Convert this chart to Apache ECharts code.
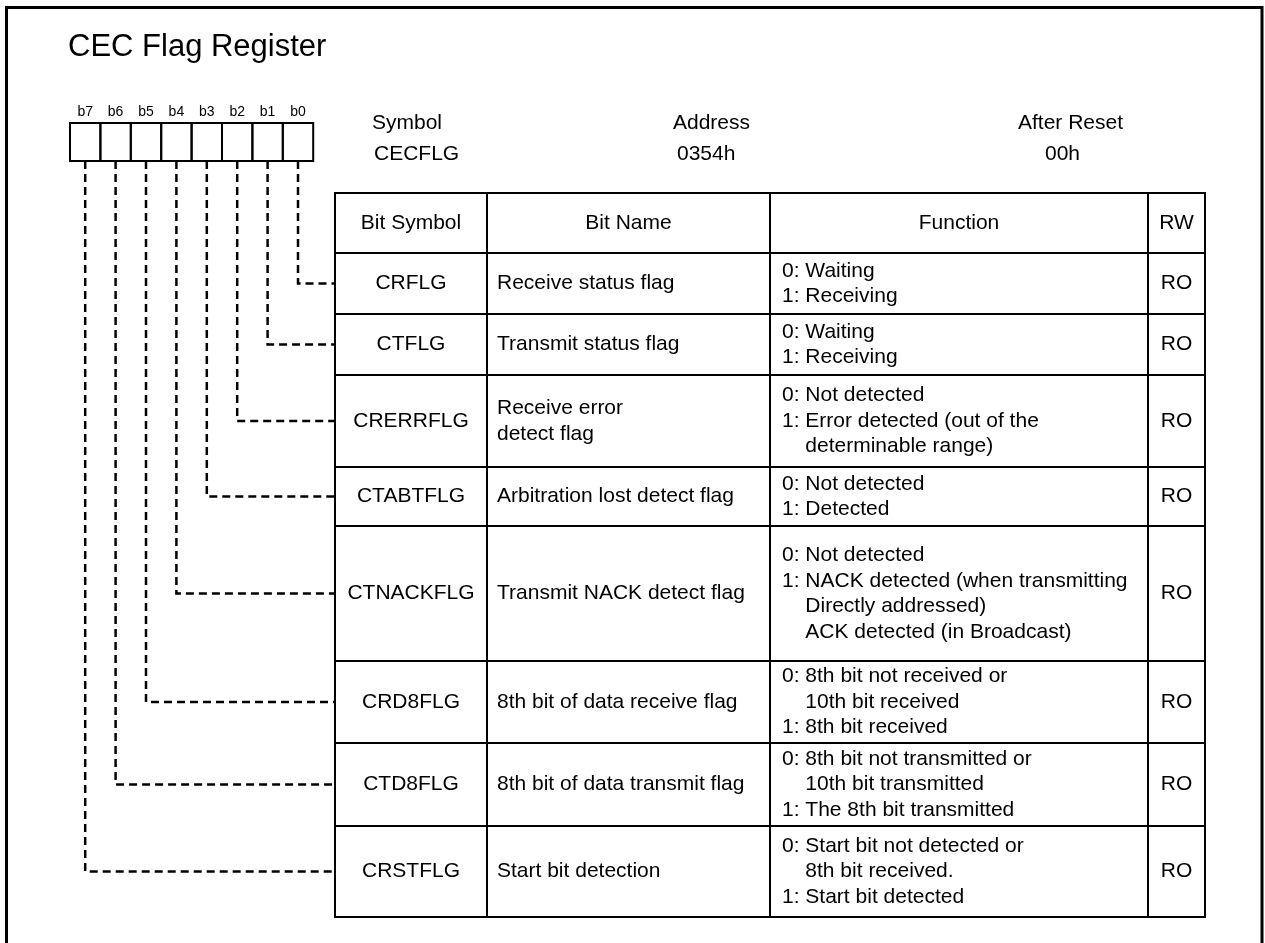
<!DOCTYPE html>
<html><head><meta charset="utf-8">
<script src="https://cdn.jsdelivr.net/npm/echarts@6/dist/echarts.min.js"></script>
<style>html,body{margin:0;padding:0;background:#fff}#c{width:1265px;height:943px}</style>
</head><body><div id="c"></div>
<script>
// ---- data ----
const titleText = 'CEC Flag Register';
const bitLabels = ['b7','b6','b5','b4','b3','b2','b1','b0'];
const infoHeads = ['Symbol','Address','After Reset'];
const infoValues = ['CECFLG','0354h','00h'];
const columnHeads = ['Bit Symbol','Bit Name','Function','RW'];
const bitSymbols = ['CRFLG','CTFLG','CRERRFLG','CTABTFLG','CTNACKFLG','CRD8FLG','CTD8FLG','CRSTFLG'];
const bitNames = ['Receive status flag','Transmit status flag','Receive error\ndetect flag','Arbitration lost detect flag','Transmit NACK detect flag','8th bit of data receive flag','8th bit of data transmit flag','Start bit detection'];
const functionLines = [
  ['0: Waiting','1: Receiving'],
  ['0: Waiting','1: Receiving'],
  ['0: Not detected','1: Error detected (out of the','    determinable range)'],
  ['0: Not detected','1: Detected'],
  ['0: Not detected','1: NACK detected (when transmitting','    Directly addressed)','    ACK detected (in Broadcast)'],
  ['0: 8th bit not received or','    10th bit received','1: 8th bit received'],
  ['0: 8th bit not transmitted or','    10th bit transmitted','1: The 8th bit transmitted'],
  ['0: Start bit not detected or','    8th bit received.','1: Start bit detected']
];
const rwValues = ['RO','RO','RO','RO','RO','RO','RO','RO'];
const rowBit = [0,1,2,3,4,5,6,7]; // row i describes bit b(rowBit[i])

// ---- layout (positions / sizes / styles) ----
const FONT = '"Liberation Sans", Arial, Helvetica, sans-serif';
const L = {
  W: 1265, H: 943,
  titleX: 68, titleY: 47, titleSize: 31,
  boxX0: 70, boxW: 30.4, boxY0: 123, boxY1: 161, labelY: 112, labelSize: 14,
  infoHeadPos: [[372,123],[673,123],[1018,123]],
  infoValPos: [[374,154],[677,154],[1045,154]],
  colX: [335, 487, 770, 1148, 1205],
  headY0: 193, headY1: 253,
  rowH: [61, 61, 92, 59, 135, 82, 83, 91],
  nameIndent: 10, funcIndent: 12,
  lineH: 25.5, size: 21
};
const rowTop = [];
{ let y = L.headY1; for (const h of L.rowH) { rowTop.push(y); y += h; } }

function txt(p, text, align, size, extra) {
  return Object.assign({
    type: 'text',
    style: { x: p[0], y: p[1], text: text, align: align, verticalAlign: 'middle',
             fontSize: size, fontFamily: FONT, fill: '#000', lineHeight: L.lineH }
  }, extra || {});
}
function rectFrom(api, x0, y0, x1, y1, lw) {
  const a = api.coord([x0, y0]), b = api.coord([x1, y1]);
  return { type: 'rect', shape: { x: a[0], y: a[1], width: b[0] - a[0], height: b[1] - a[1] },
           style: { fill: 'none', stroke: '#000', lineWidth: lw } };
}

const chart = echarts.init(document.getElementById('c'), null, { renderer: 'canvas' });
chart.setOption({
  animation: false,
  backgroundColor: '#fff',
  grid: { left: 0, right: 0, top: 0, bottom: 0 },
  xAxis: { type: 'value', min: 0, max: L.W, show: false },
  yAxis: { type: 'value', min: 0, max: L.H, inverse: true, show: false },
  graphic: [{
    type: 'polyline', silent: true,
    shape: { points: [[6.5, 960], [6.5, 7.5], [1262, 7.5], [1262, 960]] },
    style: { stroke: '#000', lineWidth: 3, fill: 'none' }
  }],
  series: [
    { // title
      type: 'custom', data: [[0]], silent: true,
      renderItem: (p, api) => txt(api.coord([L.titleX, L.titleY]), titleText, 'left', L.titleSize)
    },
    { // symbol / address / after reset
      type: 'custom', data: infoHeads.map((h, i) => [i]), silent: true,
      renderItem: (p, api) => {
        const i = api.value(0);
        return { type: 'group', children: [
          txt(api.coord(L.infoHeadPos[i]), infoHeads[i], 'left', L.size),
          txt(api.coord(L.infoValPos[i]), infoValues[i], 'left', L.size)
        ]};
      }
    },
    { // bit boxes
      type: 'custom', data: bitLabels.map((b, i) => [i]), silent: true,
      renderItem: (p, api) => {
        const i = api.value(0);
        const x0 = L.boxX0 + i * L.boxW;
        return { type: 'group', children: [
          rectFrom(api, x0, L.boxY0, x0 + L.boxW, L.boxY1, 2),
          txt(api.coord([x0 + L.boxW / 2, L.labelY]), bitLabels[i], 'center', L.labelSize)
        ]};
      }
    },
    { // header row
      type: 'custom', data: columnHeads.map((h, j) => [j]), silent: true,
      renderItem: (p, api) => {
        const j = api.value(0);
        const xm = (L.colX[j] + L.colX[j + 1]) / 2, ym = (L.headY0 + L.headY1) / 2;
        return { type: 'group', children: [
          rectFrom(api, L.colX[j], L.headY0, L.colX[j + 1], L.headY1, 2),
          txt(api.coord([xm, ym]), columnHeads[j], 'center', L.size)
        ]};
      }
    },
    { // table rows + connectors
      type: 'custom', data: bitSymbols.map((s, i) => [i]), silent: true,
      renderItem: (p, api) => {
        const i = api.value(0);
        const y0 = rowTop[i], y1 = y0 + L.rowH[i], ym = (y0 + y1) / 2;
        const c = L.colX;
        const k = 7 - rowBit[i];
        const bx = L.boxX0 + (k + 0.5) * L.boxW;
        const pts = [[bx, L.boxY1], [bx, ym], [c[0], ym]].map(q => api.coord(q));
        return { type: 'group', children: [
          rectFrom(api, c[0], y0, c[1], y1, 2),
          rectFrom(api, c[1], y0, c[2], y1, 2),
          rectFrom(api, c[2], y0, c[3], y1, 2),
          rectFrom(api, c[3], y0, c[4], y1, 2),
          txt(api.coord([(c[0] + c[1]) / 2, ym]), bitSymbols[i], 'center', L.size),
          txt(api.coord([c[1] + L.nameIndent, ym]), bitNames[i], 'left', L.size),
          txt(api.coord([c[2] + L.funcIndent, ym]), functionLines[i].join('\n'), 'left', L.size),
          txt(api.coord([(c[3] + c[4]) / 2, ym]), rwValues[i], 'center', L.size),
          { type: 'polyline', shape: { points: pts },
            style: { stroke: '#000', lineWidth: 2.5, lineDash: [8, 5], fill: 'none' } }
        ]};
      }
    }
  ]
});
</script>
</body></html>
